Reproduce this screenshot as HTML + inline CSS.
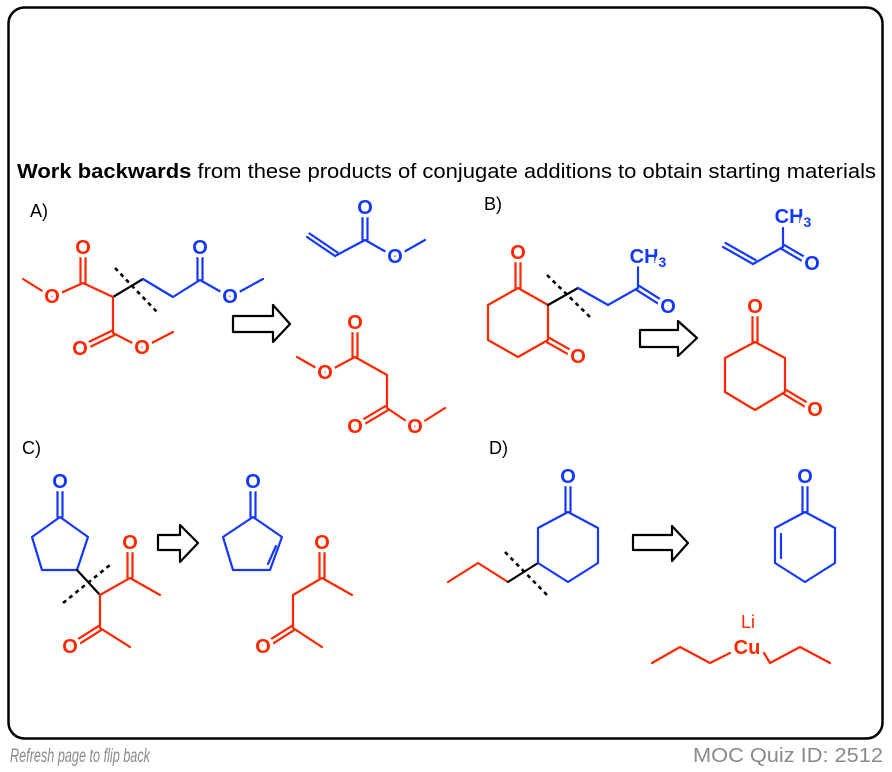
<!DOCTYPE html>
<html><head><meta charset="utf-8"><style>
html,body{margin:0;padding:0;background:#fff;}
svg{display:block;}
.r{stroke:#ff2600;}.b{stroke:#1438ff;}.k{stroke:#000;}
line,polyline,polygon{stroke-width:2.2;fill:none;stroke-linecap:round;stroke-linejoin:round;}
.d{stroke-dasharray:4 4;stroke-width:2.6;stroke-linecap:butt;}
text.at{font-family:"Liberation Sans",sans-serif;font-weight:bold;font-size:20px;text-anchor:middle;dominant-baseline:central;paint-order:stroke;stroke:#fff;stroke-width:7px;}
.rt{fill:#ff2600;}.bt{fill:#1438ff;}
.lab{font-family:"Liberation Sans",sans-serif;font-size:18px;fill:#000;}
</style></head><body>
<svg width="892" height="772" viewBox="0 0 892 772" xmlns="http://www.w3.org/2000/svg">
<rect x="8.5" y="7.5" width="874" height="731" rx="16" fill="none" stroke="#000" stroke-width="2.5"/>
<text x="17" y="178" style="font-family:'Liberation Sans',sans-serif;font-size:20px;fill:#000" textLength="859" lengthAdjust="spacingAndGlyphs"><tspan font-weight="bold">Work backwards</tspan> from these products of conjugate additions to obtain starting materials</text>
<text x="10" y="762" style="font-family:'Liberation Sans',sans-serif;font-size:19px;font-style:italic;fill:#8a8a8a" textLength="140" lengthAdjust="spacingAndGlyphs">Refresh page to flip back</text>
<text x="693" y="762" style="font-family:'Liberation Sans',sans-serif;font-size:20px;fill:#8a8a8a" textLength="190" lengthAdjust="spacingAndGlyphs">MOC Quiz ID: 2512</text>

<text x="30" y="217" class="lab">A)</text>
<text x="484" y="210" class="lab">B)</text>
<text x="22" y="454" class="lab">C)</text>
<text x="489" y="454" class="lab">D)</text>

<!-- A product -->
<polyline class="r" points="23,279 52,297 83,283 113,297"/>
<line class="r" x1="80.5" y1="283" x2="80.5" y2="249"/><line class="r" x1="85.5" y1="283" x2="85.5" y2="249"/>
<line class="k" x1="113" y1="297" x2="143" y2="279"/>
<polyline class="b" points="143,279 173,297 200,280 230,297 263,279"/>
<line class="b" x1="197.5" y1="280" x2="197.5" y2="249"/><line class="b" x1="202.5" y1="280" x2="202.5" y2="249"/>
<polyline class="r" points="113,297 113,333 142,348 173,332"/>
<line class="r" x1="114.1" y1="335.2" x2="83.1" y2="350.2"/><line class="r" x1="111.9" y1="330.8" x2="80.9" y2="345.8"/>
<line class="k d" x1="115" y1="268" x2="157" y2="312"/>
<text class="at rt" x="83" y="248">O</text><text class="at rt" x="52" y="297">O</text>
<text class="at rt" x="80" y="349">O</text><text class="at rt" x="142" y="348">O</text>
<text class="at bt" x="200" y="248">O</text><text class="at bt" x="230" y="297">O</text>
<polygon class="k" points="233,316 273,316 273,305 290,324 273,342 273,332 233,332"/>

<!-- methyl acrylate -->
<line class="b" x1="307" y1="237" x2="335" y2="256"/><line class="b" x1="309.5" y1="233.5" x2="337.5" y2="252.5"/>
<polyline class="b" points="335,256 365,240 395,257 425,240"/>
<line class="b" x1="362.5" y1="240" x2="362.5" y2="209"/><line class="b" x1="367.5" y1="240" x2="367.5" y2="209"/>
<text class="at bt" x="365" y="208">O</text><text class="at bt" x="395" y="257">O</text>

<!-- dimethyl malonate -->
<polyline class="r" points="297,357 325,373 355,357 387,375 387,408 415,427 445,408"/>
<line class="r" x1="352.5" y1="357" x2="352.5" y2="324"/><line class="r" x1="357.5" y1="357" x2="357.5" y2="324"/>
<line class="r" x1="388.2" y1="410.1" x2="356.2" y2="429.1"/><line class="r" x1="385.8" y1="405.9" x2="353.8" y2="424.9"/>
<text class="at rt" x="355" y="323">O</text><text class="at rt" x="325" y="373">O</text>
<text class="at rt" x="355" y="427">O</text><text class="at rt" x="415" y="427">O</text>

<!-- B product -->
<polygon class="r" points="518,288 548,305 548,340 518,357 488,340 488,305"/>
<line class="r" x1="515.5" y1="288" x2="515.5" y2="255"/><line class="r" x1="520.5" y1="288" x2="520.5" y2="255"/>
<line class="r" x1="546.8" y1="342.2" x2="576.8" y2="359.2"/><line class="r" x1="549.2" y1="337.8" x2="579.2" y2="354.8"/>
<line class="k" x1="548" y1="305" x2="578" y2="288"/>
<polyline class="b" points="578,288 608,305 638,288 638,267"/>
<line class="b" x1="636.7" y1="290.1" x2="666.7" y2="309.1"/><line class="b" x1="639.3" y1="285.9" x2="669.3" y2="304.9"/>
<line class="k d" x1="547" y1="275" x2="590" y2="317"/>
<text class="at rt" x="518" y="253">O</text><text class="at rt" x="578" y="357">O</text>
<text class="at bt" x="668" y="307">O</text>
<text class="at bt" x="648" y="257">CH<tspan font-size="14" dy="5">3</tspan></text>
<polygon class="k" points="640,330 678,330 678,321 697,338 678,356 678,347 640,347"/>

<!-- MVK -->
<line class="b" x1="723" y1="247" x2="753" y2="264"/><line class="b" x1="725.5" y1="243" x2="755.5" y2="260"/>
<polyline class="b" points="753,264 783,247 783,228"/>
<line class="b" x1="781.8" y1="249.1" x2="810.8" y2="266.1"/><line class="b" x1="784.2" y1="244.9" x2="813.2" y2="261.9"/>
<text class="at bt" x="812" y="264">O</text>
<text class="at bt" x="793" y="217">CH<tspan font-size="14" dy="5">3</tspan></text>

<!-- 1,3-cyclohexanedione -->
<polygon class="r" points="755,342 785,358 785,392 755,410 725,392 725,358"/>
<line class="r" x1="752.5" y1="342" x2="752.5" y2="309"/><line class="r" x1="757.5" y1="342" x2="757.5" y2="309"/>
<line class="r" x1="783.8" y1="394.1" x2="813.8" y2="412.1"/><line class="r" x1="786.2" y1="389.9" x2="816.2" y2="407.9"/>
<text class="at rt" x="755" y="307">O</text><text class="at rt" x="815" y="410">O</text>

<!-- C product -->
<polygon class="b" points="60,517 88,537 77,570 42,570 32,537"/>
<line class="b" x1="57.5" y1="517" x2="57.5" y2="484"/><line class="b" x1="62.5" y1="517" x2="62.5" y2="484"/>
<line class="k" x1="77" y1="570" x2="100" y2="595"/>
<polyline class="r" points="100,595 130,578 160,595"/>
<line class="r" x1="127.5" y1="578" x2="127.5" y2="545"/><line class="r" x1="132.5" y1="578" x2="132.5" y2="545"/>
<polyline class="r" points="100,595 100,628 130,647"/>
<line class="r" x1="101.2" y1="630.1" x2="71.2" y2="649.1"/><line class="r" x1="98.8" y1="625.9" x2="68.8" y2="644.9"/>
<line class="k d" x1="63" y1="603" x2="110" y2="565"/>
<text class="at bt" x="60" y="482">O</text><text class="at rt" x="130" y="543">O</text><text class="at rt" x="70" y="647">O</text>
<polygon class="k" points="158,535 180,535 180,525 198,543 180,562 180,550 158,550"/>

<!-- cyclopentenone -->
<polygon class="b" points="253,517 282,537 270,570 233,570 223,537"/>
<line class="b" x1="276" y1="546" x2="268" y2="564"/>
<line class="b" x1="250.5" y1="517" x2="250.5" y2="484"/><line class="b" x1="255.5" y1="517" x2="255.5" y2="484"/>
<text class="at bt" x="253" y="482">O</text>

<!-- acac -->
<polyline class="r" points="352,595 322,578 293,595 293,628 322,647"/>
<line class="r" x1="319.5" y1="578" x2="319.5" y2="545"/><line class="r" x1="324.5" y1="578" x2="324.5" y2="545"/>
<line class="r" x1="294.2" y1="630.1" x2="264.2" y2="649.1"/><line class="r" x1="291.8" y1="625.9" x2="261.8" y2="644.9"/>
<text class="at rt" x="322" y="543">O</text><text class="at rt" x="263" y="647">O</text>

<!-- D product -->
<polyline class="r" points="448,582 478,563 508,582"/>
<line class="k" x1="508" y1="582" x2="538" y2="563"/>
<polygon class="b" points="538,563 538,528 568,512 598,528 598,563 568,582"/>
<line class="b" x1="565.5" y1="512" x2="565.5" y2="479"/><line class="b" x1="570.5" y1="512" x2="570.5" y2="479"/>
<line class="k d" x1="505" y1="552" x2="547" y2="595"/>
<text class="at bt" x="568" y="477">O</text>
<polygon class="k" points="633,535 672,535 672,526 688,543 672,561 672,550 633,550"/>

<!-- cyclohexenone -->
<polygon class="b" points="805,512 835,528 835,563 805,582 775,563 775,528"/>
<line class="b" x1="781" y1="534" x2="781" y2="558"/>
<line class="b" x1="802.5" y1="512" x2="802.5" y2="479"/><line class="b" x1="807.5" y1="512" x2="807.5" y2="479"/>
<text class="at bt" x="805" y="477">O</text>

<!-- cuprate -->
<polyline class="r" points="652,663 680,647 710,663 730,653"/>
<polyline class="r" points="764,653 770,663 800,647 830,663"/>
<text class="at rt" x="747" y="648">Cu</text>
<text x="748" y="622" style="font-family:'Liberation Sans',sans-serif;font-size:18px;fill:#ff2600;text-anchor:middle;dominant-baseline:central">Li</text>
</svg>
</body></html>
